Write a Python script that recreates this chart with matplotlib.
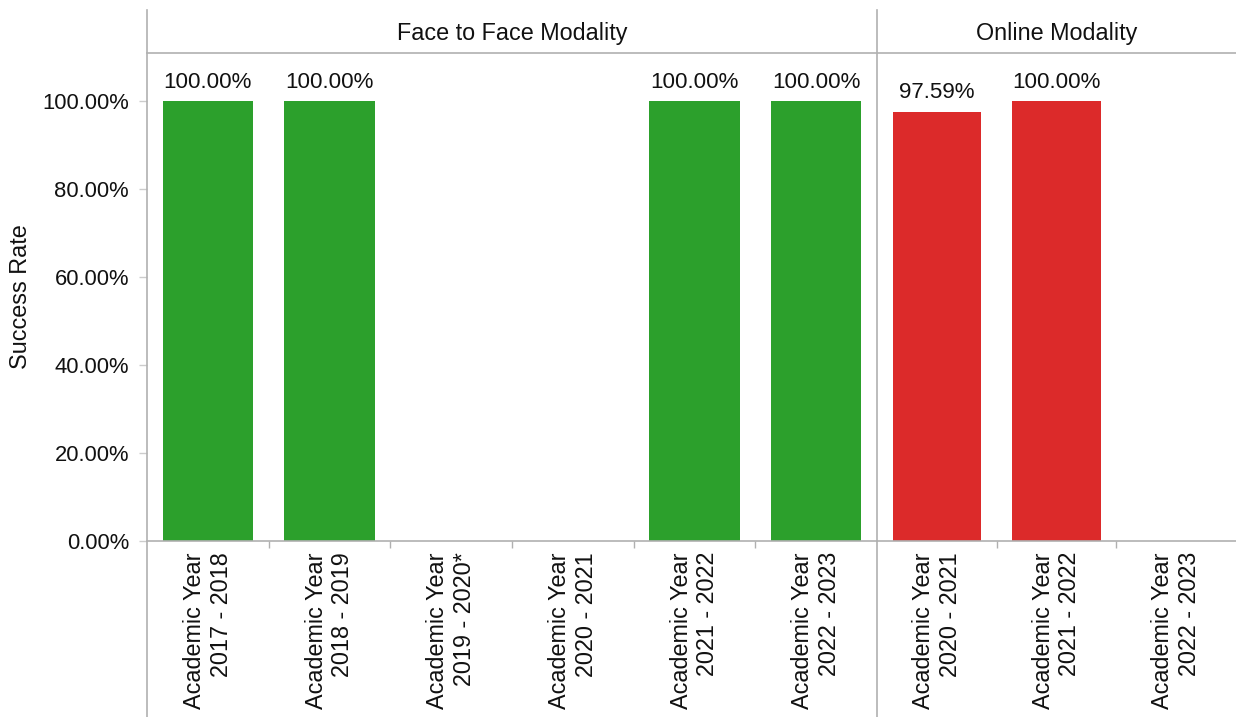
import numpy as np
import matplotlib
matplotlib.use("Agg")
import matplotlib.pyplot as plt
from matplotlib.lines import Line2D

plt.rcParams['font.family'] = ['Liberation Sans', 'DejaVu Sans']

# ---- data ----
panel_titles = ["Face to Face Modality", "Online Modality"]
face_labels = ["Academic Year\n2017 - 2018", "Academic Year\n2018 - 2019",
               "Academic Year\n2019 - 2020*", "Academic Year\n2020 - 2021",
               "Academic Year\n2021 - 2022", "Academic Year\n2022 - 2023"]
face_values = [100.0, 100.0, np.nan, np.nan, 100.0, 100.0]
online_labels = ["Academic Year\n2020 - 2021", "Academic Year\n2021 - 2022",
                 "Academic Year\n2022 - 2023"]
online_values = [97.59, 100.0, np.nan]
y_ticks = [0, 20, 40, 60, 80, 100]
y_label = "Success Rate"

colors = ["#2ca02c", "#dc2a2a"]

W, H = 1236, 717
fig = plt.figure(figsize=(W / 100, H / 100), dpi=100)

def fx(px):
    return px / W

def fy(py):
    return 1 - py / H

left, mid, right = 147, 877, 1236
top_hdr, top_ax, base = 10, 53, 541
FS = 15.8
FSX = 16.8
grey = "#b0b0b0"

panels = [(face_labels, face_values, left, mid), (online_labels, online_values, mid, right)]
axes = []
for i, (labels, vals, x0, x1) in enumerate(panels):
    ax = fig.add_axes([fx(x0), fy(base), fx(x1) - fx(x0), fy(top_ax) - fy(base)])
    n = len(labels)
    xs = np.arange(n)
    ax.bar(xs, vals, width=0.74, color=colors[i], zorder=2)
    for x, v in zip(xs, vals):
        if not np.isnan(v):
            ax.annotate(f"{v:.2f}%", (x, v), xytext=(0, 6), textcoords="offset points",
                        ha="center", va="bottom", fontsize=FS + 0.3, color="#111111")
    ax.set_xlim(-0.5, n - 0.5)
    ax.set_ylim(0, 110.9)
    for s in ["top", "right", "left"]:
        ax.spines[s].set_visible(False)
    ax.spines["bottom"].set_color(grey)
    ax.spines["bottom"].set_linewidth(1.2)
    ax.set_xticks(xs)
    ax.set_xticklabels(labels, rotation=90, va="top", ha="center",
                       multialignment="right", fontsize=FSX, color="#111111")
    ax.tick_params(axis="x", length=0, pad=8)
    ax.set_xticks(np.arange(0.5, n - 0.5, 1), minor=True)
    ax.tick_params(axis="x", which="minor", length=5, color=grey, width=1)
    if i == 0:
        ax.set_yticks(y_ticks)
        ax.set_yticklabels([f"{t:.2f}%" for t in y_ticks], fontsize=FS, color="#111111")
        ax.tick_params(axis="y", length=6, color="#cccccc", width=1, pad=7)
        ax.set_ylabel(y_label, fontsize=FSX, color="#111111", labelpad=7)
    else:
        ax.set_yticks([])
    ax.patch.set_alpha(0)
    axes.append(ax)

    fig.text(fx((x0 + x1) / 2), fy((top_hdr + top_ax) / 2 + 2), panel_titles[i],
             ha="center", va="center", fontsize=FSX, color="#111111")

for x in (left, mid):
    fig.add_artist(Line2D([fx(x), fx(x)], [fy(top_hdr), 0], color=grey, lw=1.2))
fig.add_artist(Line2D([fx(left), 1], [fy(top_ax), fy(top_ax)], color=grey, lw=1.2))

fig.savefig("out.png", dpi=100, facecolor="white")
